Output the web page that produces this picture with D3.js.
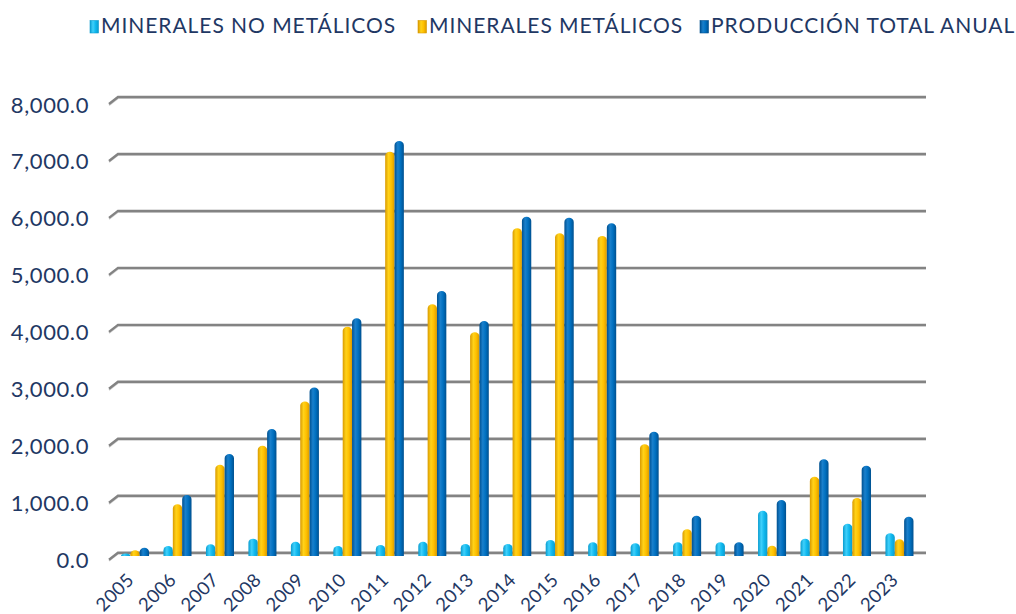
<!DOCTYPE html>
<html>
<head>
<meta charset="utf-8">
<script src="https://cdn.jsdelivr.net/npm/d3@7"></script>
<style>
  html, body { margin: 0; padding: 0; background: #ffffff; }
  svg { display: block; }
  text { font-family: Lato, "Noto Sans", sans-serif; fill: #1f3864; }
</style>
</head>
<body>
<svg id="chart" width="1016" height="614"></svg>
<script>
// ---- data ----
const years = ["2005","2006","2007","2008","2009","2010","2011","2012","2013","2014","2015","2016","2017","2018","2019","2020","2021","2022","2023"];
const seriesNames = ["MINERALES NO METÁLICOS", "MINERALES METÁLICOS", "PRODUCCIÓN TOTAL ANUAL"];
const noMetalicos = [45, 175, 205, 305, 250, 175, 193, 251, 211, 211, 281, 240, 223, 240, 240, 795, 304, 567, 398];
const metalicos   = [100, 907, 1600, 1935, 2714, 4026, 7098, 4419, 3927, 5753, 5665, 5618, 1961, 469, 5, 181, 1392, 1018, 293];
const totalAnual  = [145, 1070, 1790, 2228, 2956, 4173, 7286, 4652, 4126, 5957, 5939, 5841, 2183, 708, 240, 983, 1698, 1585, 690];
const yTicks = [0, 1000, 2000, 3000, 4000, 5000, 6000, 7000, 8000];

const seriesValues = [noMetalicos, metalicos, totalAnual];
const seriesColors = [
  {id: "gCyan",   edge: "#0a9ccf", mid: "#3fd0fb", base: "#10b8ee"},
  {id: "gYellow", edge: "#d99a00", mid: "#ffd21a", base: "#ffc000"},
  {id: "gBlue",   edge: "#00508f", mid: "#1a80cc", base: "#0070c0"}
];

const svg = d3.select("#chart");
const defs = svg.append("defs");
seriesColors.forEach(c => {
  const g = defs.append("linearGradient").attr("id", c.id)
    .attr("x1", "0%").attr("x2", "100%").attr("y1", "0%").attr("y2", "0%");
  g.append("stop").attr("offset", "0%").attr("stop-color", c.edge);
  g.append("stop").attr("offset", "35%").attr("stop-color", c.mid);
  g.append("stop").attr("offset", "65%").attr("stop-color", c.base);
  g.append("stop").attr("offset", "100%").attr("stop-color", c.edge);
});

// ---- scales ----
const x = d3.scaleBand().domain(years).range([113.8, 920.7]).paddingInner(0.34).paddingOuter(0.17);
const xs = d3.scaleBand().domain(d3.range(3)).range([0, x.bandwidth()]);
const y = d3.scaleLinear().domain([0, 8000]).range([552.7, 97]);

const depthY = 7;        // 3D wall offset
const frontShift = 3.3;  // bars sit slightly in front of the back wall

// ---- gridlines (back wall) ----
const grid = svg.append("g");
grid.selectAll("path.shadow").data(yTicks).join("path")
  .attr("d", d => `M${x.range()[0] - 4.8},${y(d) + depthY + 1.3} L${x.range()[0] + 4.2},${y(d) + 1.3} L926,${y(d) + 1.3}`)
  .attr("fill", "none").attr("stroke", "#d0d0d0").attr("stroke-width", 1.5);
grid.selectAll("path.line").data(yTicks).join("path")
  .attr("d", d => `M${x.range()[0] - 4.8},${y(d) + depthY} L${x.range()[0] + 4.2},${y(d)} L926,${y(d)}`)
  .attr("fill", "none").attr("stroke", "#838383").attr("stroke-width", 2.4);

// ---- y labels ----
const fmt = d3.format(",.1f");
svg.append("g").selectAll("text").data(yTicks).join("text")
  .attr("x", 89).attr("y", d => y(d) + 15.5)
  .attr("text-anchor", "end")
  .attr("font-size", 22)
  .attr("letter-spacing", 0.6)
  .text(d => fmt(d));

// ---- bars ----
function barPath(x0, w, v) {
  const yb = y(0) + frontShift;
  const yt = y(v) + frontShift;
  const h = yb - yt;
  const ry = Math.min(4.2, h);
  return `M${x0},${yb} V${yt + ry} A${w / 2},${ry} 0 0 1 ${x0 + w},${yt + ry} V${yb} Z`;
}
const groups = svg.append("g").selectAll("g").data(years).join("g")
  .attr("transform", d => `translate(${x(d)},0)`);
groups.selectAll("path").data((d, i) => seriesValues.map((s, k) => ({k, v: s[i]}))).join("path")
  .attr("d", d => barPath(xs(d.k), xs.bandwidth(), d.v))
  .attr("fill", d => `url(#${seriesColors[d.k].id})`);

// ---- x labels ----
svg.append("g").selectAll("text").data(years).join("text")
  .attr("transform", d => `translate(${x(d) + x.bandwidth() / 2},581) rotate(-45)`)
  .attr("text-anchor", "end")
  .attr("font-size", 18.5)
  .attr("letter-spacing", 0.4)
  .text(d => d);

// ---- legend ----
const legendTextX = [101, 429, 711];
const legend = svg.append("g");
const li = legend.selectAll("g").data(seriesNames).join("g")
  .attr("transform", (d, i) => `translate(${legendTextX[i]},0)`);
li.append("rect").attr("x", -11).attr("y", 20.5).attr("width", 8.5).attr("height", 12.5)
  .attr("fill", (d, i) => `url(#${seriesColors[i].id})`)
  .attr("stroke", (d, i) => seriesColors[i].edge).attr("stroke-width", 0.6);
li.append("text").attr("x", 0).attr("y", 32.5)
  .attr("font-size", 21)
  .attr("letter-spacing", 0.95)
  .text(d => d);
</script>
</body>
</html>
